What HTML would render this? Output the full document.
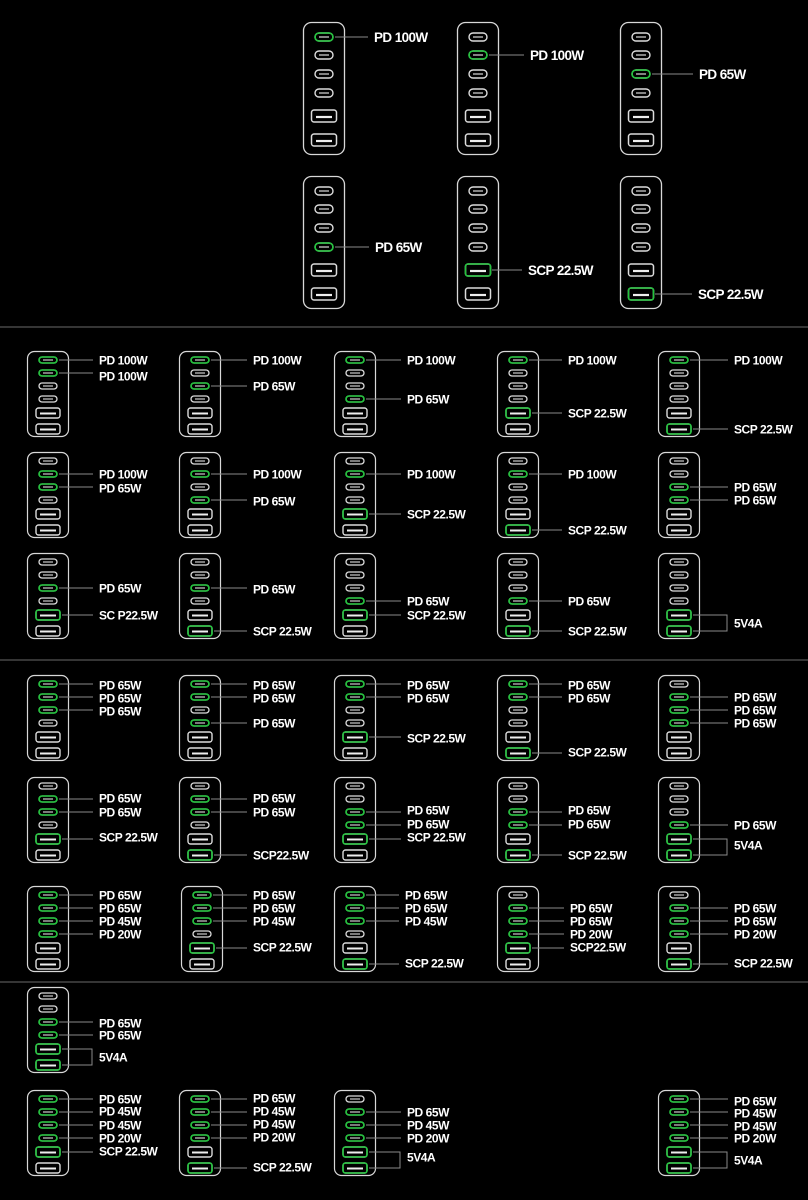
<!DOCTYPE html>
<html><head><meta charset="utf-8"><style>
html,body{margin:0;padding:0;background:#000;}
svg{display:block}
.t{fill:#fff;font-family:"Liberation Sans",sans-serif;font-weight:bold;font-size:12px;letter-spacing:-0.45px}
.T{fill:#fff;font-family:"Liberation Sans",sans-serif;font-weight:bold;font-size:13.5px;letter-spacing:-0.6px}
.l{stroke:#8a8a8a;stroke-width:1;fill:none}
.g{stroke:#22c43c;stroke-width:1.6;fill:none}
</style></head><body>
<svg width="808" height="1200" viewBox="0 0 808 1200" xmlns="http://www.w3.org/2000/svg">
<defs>
<g id="cr"><rect x="12" y="-3" width="18" height="6" rx="3"/></g>
<g id="ar"><rect x="9" y="-5" width="24" height="10" rx="2.5"/></g>
<g id="c" stroke="#dcdcdc" fill="none"><rect x="12" y="-3" width="18" height="6" rx="3" stroke-width="1.3"/><line x1="16" x2="26" y1="0" y2="0" stroke="#bbb" stroke-width="1.3"/></g>
<g id="a" stroke="#dcdcdc" fill="none"><rect x="9" y="-5" width="24" height="10" rx="2.5" stroke-width="1.4"/><line x1="13" x2="29" y1="0.5" y2="0.5" stroke="#eee" stroke-width="2"/></g>
<g id="d"><rect x="0.5" y="0.5" width="41" height="85" rx="7" fill="none" stroke="#d8d8d8" stroke-width="1.2"/>
<use href="#c" y="9"/><use href="#c" y="22"/><use href="#c" y="35"/><use href="#c" y="48"/><use href="#a" y="62"/><use href="#a" y="78"/></g>
<g id="CR"><rect x="12" y="-4" width="18" height="8" rx="4"/></g>
<g id="AR"><rect x="8.5" y="-6" width="25" height="12" rx="2.5"/></g>
<g id="C" stroke="#dcdcdc" fill="none"><rect x="12" y="-4" width="18" height="8" rx="4" stroke-width="1.4"/><line x1="16" x2="26" y1="0" y2="0" stroke="#bbb" stroke-width="1.4"/></g>
<g id="A" stroke="#dcdcdc" fill="none"><rect x="8.5" y="-6" width="25" height="12" rx="2.5" stroke-width="1.5"/><line x1="13" x2="29" y1="1" y2="1" stroke="#eee" stroke-width="2.2"/></g>
<g id="D"><rect x="0.5" y="0.5" width="41" height="132" rx="8" fill="none" stroke="#d8d8d8" stroke-width="1.3"/>
<use href="#C" y="15"/><use href="#C" y="33"/><use href="#C" y="52"/><use href="#C" y="71"/><use href="#A" y="94"/><use href="#A" y="118"/></g>
</defs>
<rect width="808" height="1200" fill="#000"/>
<line x1="0" x2="808" y1="327" y2="327" stroke="#6a6a6a"/>
<line x1="0" x2="808" y1="660" y2="660" stroke="#6a6a6a"/>
<line x1="0" x2="808" y1="982" y2="982" stroke="#6a6a6a"/>

<!-- BIG -->
<g transform="translate(303,22)"><use href="#D"/><use href="#CR" y="15" class="g"/><path class="l" d="M32 15H65"/><text class="T" x="71" y="15" dy=".36em">PD 100W</text></g>
<g transform="translate(457,22)"><use href="#D"/><use href="#CR" y="33" class="g"/><path class="l" d="M32 33H67"/><text class="T" x="73" y="33" dy=".36em">PD 100W</text></g>
<g transform="translate(620,22)"><use href="#D"/><use href="#CR" y="52" class="g"/><path class="l" d="M32 52H73"/><text class="T" x="79" y="52" dy=".36em">PD 65W</text></g>
<g transform="translate(303,176)"><use href="#D"/><use href="#CR" y="71" class="g"/><path class="l" d="M32 71H66"/><text class="T" x="72" y="71" dy=".36em">PD 65W</text></g>
<g transform="translate(457,176)"><use href="#D"/><use href="#AR" y="94" class="g"/><path class="l" d="M35 94H65"/><text class="T" x="71" y="94" dy=".36em">SCP 22.5W</text></g>
<g transform="translate(620,176)"><use href="#D"/><use href="#AR" y="118" class="g"/><path class="l" d="M35 118H72"/><text class="T" x="78" y="118" dy=".36em">SCP 22.5W</text></g>

<!-- SECTION 1 R1 -->
<g transform="translate(27,351)"><use href="#d"/><use href="#cr" y="9" class="g"/><use href="#cr" y="22" class="g"/><path class="l" d="M32 9H66M32 22H66"/><text class="t" x="72" y="9" dy=".36em">PD 100W</text><text class="t" x="72" y="25" dy=".36em">PD 100W</text></g>
<g transform="translate(179,351)"><use href="#d"/><use href="#cr" y="9" class="g"/><use href="#cr" y="35" class="g"/><path class="l" d="M32 9H68M32 35H68"/><text class="t" x="74" y="9" dy=".36em">PD 100W</text><text class="t" x="74" y="35" dy=".36em">PD 65W</text></g>
<g transform="translate(334,351)"><use href="#d"/><use href="#cr" y="9" class="g"/><use href="#cr" y="48" class="g"/><path class="l" d="M32 9H67M32 48H67"/><text class="t" x="73" y="9" dy=".36em">PD 100W</text><text class="t" x="73" y="48" dy=".36em">PD 65W</text></g>
<g transform="translate(497,351)"><use href="#d"/><use href="#cr" y="9" class="g"/><use href="#ar" y="62" class="g"/><path class="l" d="M32 9H65M35 62H65"/><text class="t" x="71" y="9" dy=".36em">PD 100W</text><text class="t" x="71" y="62" dy=".36em">SCP 22.5W</text></g>
<g transform="translate(658,351)"><use href="#d"/><use href="#cr" y="9" class="g"/><use href="#ar" y="78" class="g"/><path class="l" d="M32 9H70M35 78H70"/><text class="t" x="76" y="9" dy=".36em">PD 100W</text><text class="t" x="76" y="78" dy=".36em">SCP 22.5W</text></g>
<!-- R2 -->
<g transform="translate(27,452)"><use href="#d"/><use href="#cr" y="22" class="g"/><use href="#cr" y="35" class="g"/><path class="l" d="M32 22H66M32 35H66"/><text class="t" x="72" y="22" dy=".36em">PD 100W</text><text class="t" x="72" y="36" dy=".36em">PD 65W</text></g>
<g transform="translate(179,452)"><use href="#d"/><use href="#cr" y="22" class="g"/><use href="#cr" y="48" class="g"/><path class="l" d="M32 22H68M32 48H68"/><text class="t" x="74" y="22" dy=".36em">PD 100W</text><text class="t" x="74" y="49" dy=".36em">PD 65W</text></g>
<g transform="translate(334,452)"><use href="#d"/><use href="#cr" y="22" class="g"/><use href="#ar" y="62" class="g"/><path class="l" d="M32 22H67M35 62H67"/><text class="t" x="73" y="22" dy=".36em">PD 100W</text><text class="t" x="73" y="62" dy=".36em">SCP 22.5W</text></g>
<g transform="translate(497,452)"><use href="#d"/><use href="#cr" y="22" class="g"/><use href="#ar" y="78" class="g"/><path class="l" d="M32 22H65M35 78H65"/><text class="t" x="71" y="22" dy=".36em">PD 100W</text><text class="t" x="71" y="78" dy=".36em">SCP 22.5W</text></g>
<g transform="translate(658,452)"><use href="#d"/><use href="#cr" y="35" class="g"/><use href="#cr" y="48" class="g"/><path class="l" d="M32 35H70M32 48H70"/><text class="t" x="76" y="35" dy=".36em">PD 65W</text><text class="t" x="76" y="48" dy=".36em">PD 65W</text></g>
<!-- R3 -->
<g transform="translate(27,553)"><use href="#d"/><use href="#cr" y="35" class="g"/><use href="#ar" y="62" class="g"/><path class="l" d="M32 35H66M35 62H66"/><text class="t" x="72" y="35" dy=".36em">PD 65W</text><text class="t" x="72" y="62" dy=".36em">SC P22.5W</text></g>
<g transform="translate(179,553)"><use href="#d"/><use href="#cr" y="35" class="g"/><use href="#ar" y="78" class="g"/><path class="l" d="M32 35H68M35 78H68"/><text class="t" x="74" y="36" dy=".36em">PD 65W</text><text class="t" x="74" y="78" dy=".36em">SCP 22.5W</text></g>
<g transform="translate(334,553)"><use href="#d"/><use href="#cr" y="48" class="g"/><use href="#ar" y="62" class="g"/><path class="l" d="M32 48H67M35 62H67"/><text class="t" x="73" y="48" dy=".36em">PD 65W</text><text class="t" x="73" y="62" dy=".36em">SCP 22.5W</text></g>
<g transform="translate(497,553)"><use href="#d"/><use href="#cr" y="48" class="g"/><use href="#ar" y="78" class="g"/><path class="l" d="M32 48H65M35 78H65"/><text class="t" x="71" y="48" dy=".36em">PD 65W</text><text class="t" x="71" y="78" dy=".36em">SCP 22.5W</text></g>
<g transform="translate(658,553)"><use href="#d"/><use href="#ar" y="62" class="g"/><use href="#ar" y="78" class="g"/><path class="l" d="M35 62H69V78H35"/><text class="t" x="76" y="70" dy=".36em">5V4A</text></g>

<!-- SECTION 2 R1 -->
<g transform="translate(27,675)"><use href="#d"/><use href="#cr" y="9" class="g"/><use href="#cr" y="22" class="g"/><use href="#cr" y="35" class="g"/><path class="l" d="M32 9H66M32 22H66M32 35H66"/><text class="t" x="72" y="10" dy=".36em">PD 65W</text><text class="t" x="72" y="23" dy=".36em">PD 65W</text><text class="t" x="72" y="36" dy=".36em">PD 65W</text></g>
<g transform="translate(179,675)"><use href="#d"/><use href="#cr" y="9" class="g"/><use href="#cr" y="22" class="g"/><use href="#cr" y="48" class="g"/><path class="l" d="M32 9H68M32 22H68M32 48H68"/><text class="t" x="74" y="10" dy=".36em">PD 65W</text><text class="t" x="74" y="23" dy=".36em">PD 65W</text><text class="t" x="74" y="48" dy=".36em">PD 65W</text></g>
<g transform="translate(334,675)"><use href="#d"/><use href="#cr" y="9" class="g"/><use href="#cr" y="22" class="g"/><use href="#ar" y="62" class="g"/><path class="l" d="M32 9H67M32 22H67M35 62H67"/><text class="t" x="73" y="10" dy=".36em">PD 65W</text><text class="t" x="73" y="23" dy=".36em">PD 65W</text><text class="t" x="73" y="63" dy=".36em">SCP 22.5W</text></g>
<g transform="translate(497,675)"><use href="#d"/><use href="#cr" y="9" class="g"/><use href="#cr" y="22" class="g"/><use href="#ar" y="78" class="g"/><path class="l" d="M32 9H65M32 22H65M35 78H65"/><text class="t" x="71" y="10" dy=".36em">PD 65W</text><text class="t" x="71" y="23" dy=".36em">PD 65W</text><text class="t" x="71" y="77" dy=".36em">SCP 22.5W</text></g>
<g transform="translate(658,675)"><use href="#d"/><use href="#cr" y="22" class="g"/><use href="#cr" y="35" class="g"/><use href="#cr" y="48" class="g"/><path class="l" d="M32 22H70M32 35H70M32 48H70"/><text class="t" x="76" y="22" dy=".36em">PD 65W</text><text class="t" x="76" y="35" dy=".36em">PD 65W</text><text class="t" x="76" y="48" dy=".36em">PD 65W</text></g>
<!-- R2 -->
<g transform="translate(27,777)"><use href="#d"/><use href="#cr" y="22" class="g"/><use href="#cr" y="35" class="g"/><use href="#ar" y="62" class="g"/><path class="l" d="M32 22H66M32 35H66M35 62H66"/><text class="t" x="72" y="21" dy=".36em">PD 65W</text><text class="t" x="72" y="35" dy=".36em">PD 65W</text><text class="t" x="72" y="60" dy=".36em">SCP 22.5W</text></g>
<g transform="translate(179,777)"><use href="#d"/><use href="#cr" y="22" class="g"/><use href="#cr" y="35" class="g"/><use href="#ar" y="78" class="g"/><path class="l" d="M32 22H68M32 35H68M35 78H68"/><text class="t" x="74" y="21" dy=".36em">PD 65W</text><text class="t" x="74" y="35" dy=".36em">PD 65W</text><text class="t" x="74" y="78" dy=".36em">SCP22.5W</text></g>
<g transform="translate(334,777)"><use href="#d"/><use href="#cr" y="35" class="g"/><use href="#cr" y="48" class="g"/><use href="#ar" y="62" class="g"/><path class="l" d="M32 35H67M32 48H67M35 62H67"/><text class="t" x="73" y="33" dy=".36em">PD 65W</text><text class="t" x="73" y="47" dy=".36em">PD 65W</text><text class="t" x="73" y="60" dy=".36em">SCP 22.5W</text></g>
<g transform="translate(497,777)"><use href="#d"/><use href="#cr" y="35" class="g"/><use href="#cr" y="48" class="g"/><use href="#ar" y="78" class="g"/><path class="l" d="M32 35H65M32 48H65M35 78H65"/><text class="t" x="71" y="33" dy=".36em">PD 65W</text><text class="t" x="71" y="47" dy=".36em">PD 65W</text><text class="t" x="71" y="78" dy=".36em">SCP 22.5W</text></g>
<g transform="translate(658,777)"><use href="#d"/><use href="#cr" y="48" class="g"/><use href="#ar" y="62" class="g"/><use href="#ar" y="78" class="g"/><path class="l" d="M32 48H70M35 62H69V78H35"/><text class="t" x="76" y="48" dy=".36em">PD 65W</text><text class="t" x="76" y="68" dy=".36em">5V4A</text></g>
<!-- R3 -->
<g transform="translate(27,886)"><use href="#d"/><use href="#cr" y="9" class="g"/><use href="#cr" y="22" class="g"/><use href="#cr" y="35" class="g"/><use href="#cr" y="48" class="g"/><path class="l" d="M32 9H66M32 22H66M32 35H66M32 48H66"/><text class="t" x="72" y="9" dy=".36em">PD 65W</text><text class="t" x="72" y="22" dy=".36em">PD 65W</text><text class="t" x="72" y="35" dy=".36em">PD 45W</text><text class="t" x="72" y="48" dy=".36em">PD 20W</text></g>
<g transform="translate(181,886)"><use href="#d"/><use href="#cr" y="9" class="g"/><use href="#cr" y="22" class="g"/><use href="#cr" y="35" class="g"/><use href="#ar" y="62" class="g"/><path class="l" d="M32 9H66M32 22H66M32 35H66M35 62H66"/><text class="t" x="72" y="9" dy=".36em">PD 65W</text><text class="t" x="72" y="22" dy=".36em">PD 65W</text><text class="t" x="72" y="35" dy=".36em">PD 45W</text><text class="t" x="72" y="61" dy=".36em">SCP 22.5W</text></g>
<g transform="translate(334,886)"><use href="#d"/><use href="#cr" y="9" class="g"/><use href="#cr" y="22" class="g"/><use href="#cr" y="35" class="g"/><use href="#ar" y="78" class="g"/><path class="l" d="M32 9H65M32 22H65M32 35H65M35 78H65"/><text class="t" x="71" y="9" dy=".36em">PD 65W</text><text class="t" x="71" y="22" dy=".36em">PD 65W</text><text class="t" x="71" y="35" dy=".36em">PD 45W</text><text class="t" x="71" y="77" dy=".36em">SCP 22.5W</text></g>
<g transform="translate(497,886)"><use href="#d"/><use href="#cr" y="22" class="g"/><use href="#cr" y="35" class="g"/><use href="#cr" y="48" class="g"/><use href="#ar" y="62" class="g"/><path class="l" d="M32 22H67M32 35H67M32 48H67M35 62H67"/><text class="t" x="73" y="22" dy=".36em">PD 65W</text><text class="t" x="73" y="35" dy=".36em">PD 65W</text><text class="t" x="73" y="48" dy=".36em">PD 20W</text><text class="t" x="73" y="61" dy=".36em">SCP22.5W</text></g>
<g transform="translate(658,886)"><use href="#d"/><use href="#cr" y="22" class="g"/><use href="#cr" y="35" class="g"/><use href="#cr" y="48" class="g"/><use href="#ar" y="78" class="g"/><path class="l" d="M32 22H70M32 35H70M32 48H70M35 78H70"/><text class="t" x="76" y="22" dy=".36em">PD 65W</text><text class="t" x="76" y="35" dy=".36em">PD 65W</text><text class="t" x="76" y="48" dy=".36em">PD 20W</text><text class="t" x="76" y="77" dy=".36em">SCP 22.5W</text></g>

<!-- SECTION 3 -->
<g transform="translate(27,987)"><use href="#d"/><use href="#cr" y="35" class="g"/><use href="#cr" y="48" class="g"/><use href="#ar" y="62" class="g"/><use href="#ar" y="78" class="g"/><path class="l" d="M32 35H66M32 48H66M35 62H65V78H35"/><text class="t" x="72" y="36" dy=".36em">PD 65W</text><text class="t" x="72" y="48" dy=".36em">PD 65W</text><text class="t" x="72" y="70" dy=".36em">5V4A</text></g>
<g transform="translate(27,1090)"><use href="#d"/><use href="#cr" y="9" class="g"/><use href="#cr" y="22" class="g"/><use href="#cr" y="35" class="g"/><use href="#cr" y="48" class="g"/><use href="#ar" y="62" class="g"/><path class="l" d="M32 9H66M32 22H66M32 35H66M32 48H66M35 62H66"/><text class="t" x="72" y="9" dy=".36em">PD 65W</text><text class="t" x="72" y="21" dy=".36em">PD 45W</text><text class="t" x="72" y="35" dy=".36em">PD 45W</text><text class="t" x="72" y="48" dy=".36em">PD 20W</text><text class="t" x="72" y="61" dy=".36em">SCP 22.5W</text></g>
<g transform="translate(179,1090)"><use href="#d"/><use href="#cr" y="9" class="g"/><use href="#cr" y="22" class="g"/><use href="#cr" y="35" class="g"/><use href="#cr" y="48" class="g"/><use href="#ar" y="78" class="g"/><path class="l" d="M32 9H68M32 22H68M32 35H68M32 48H68M35 78H68"/><text class="t" x="74" y="8" dy=".36em">PD 65W</text><text class="t" x="74" y="21" dy=".36em">PD 45W</text><text class="t" x="74" y="34" dy=".36em">PD 45W</text><text class="t" x="74" y="47" dy=".36em">PD 20W</text><text class="t" x="74" y="77" dy=".36em">SCP 22.5W</text></g>
<g transform="translate(334,1090)"><use href="#d"/><use href="#cr" y="22" class="g"/><use href="#cr" y="35" class="g"/><use href="#cr" y="48" class="g"/><use href="#ar" y="62" class="g"/><use href="#ar" y="78" class="g"/><path class="l" d="M32 22H67M32 35H67M32 48H67M35 62H66V78H35"/><text class="t" x="73" y="22" dy=".36em">PD 65W</text><text class="t" x="73" y="35" dy=".36em">PD 45W</text><text class="t" x="73" y="48" dy=".36em">PD 20W</text><text class="t" x="73" y="67" dy=".36em">5V4A</text></g>
<g transform="translate(658,1090)"><use href="#d"/><use href="#cr" y="9" class="g"/><use href="#cr" y="22" class="g"/><use href="#cr" y="35" class="g"/><use href="#cr" y="48" class="g"/><use href="#ar" y="62" class="g"/><use href="#ar" y="78" class="g"/><path class="l" d="M32 9H70M32 22H70M32 35H70M32 48H70M35 62H69V78H35"/><text class="t" x="76" y="11" dy=".36em">PD 65W</text><text class="t" x="76" y="23" dy=".36em">PD 45W</text><text class="t" x="76" y="36" dy=".36em">PD 45W</text><text class="t" x="76" y="48" dy=".36em">PD 20W</text><text class="t" x="76" y="70" dy=".36em">5V4A</text></g>
</svg>
</body></html>
